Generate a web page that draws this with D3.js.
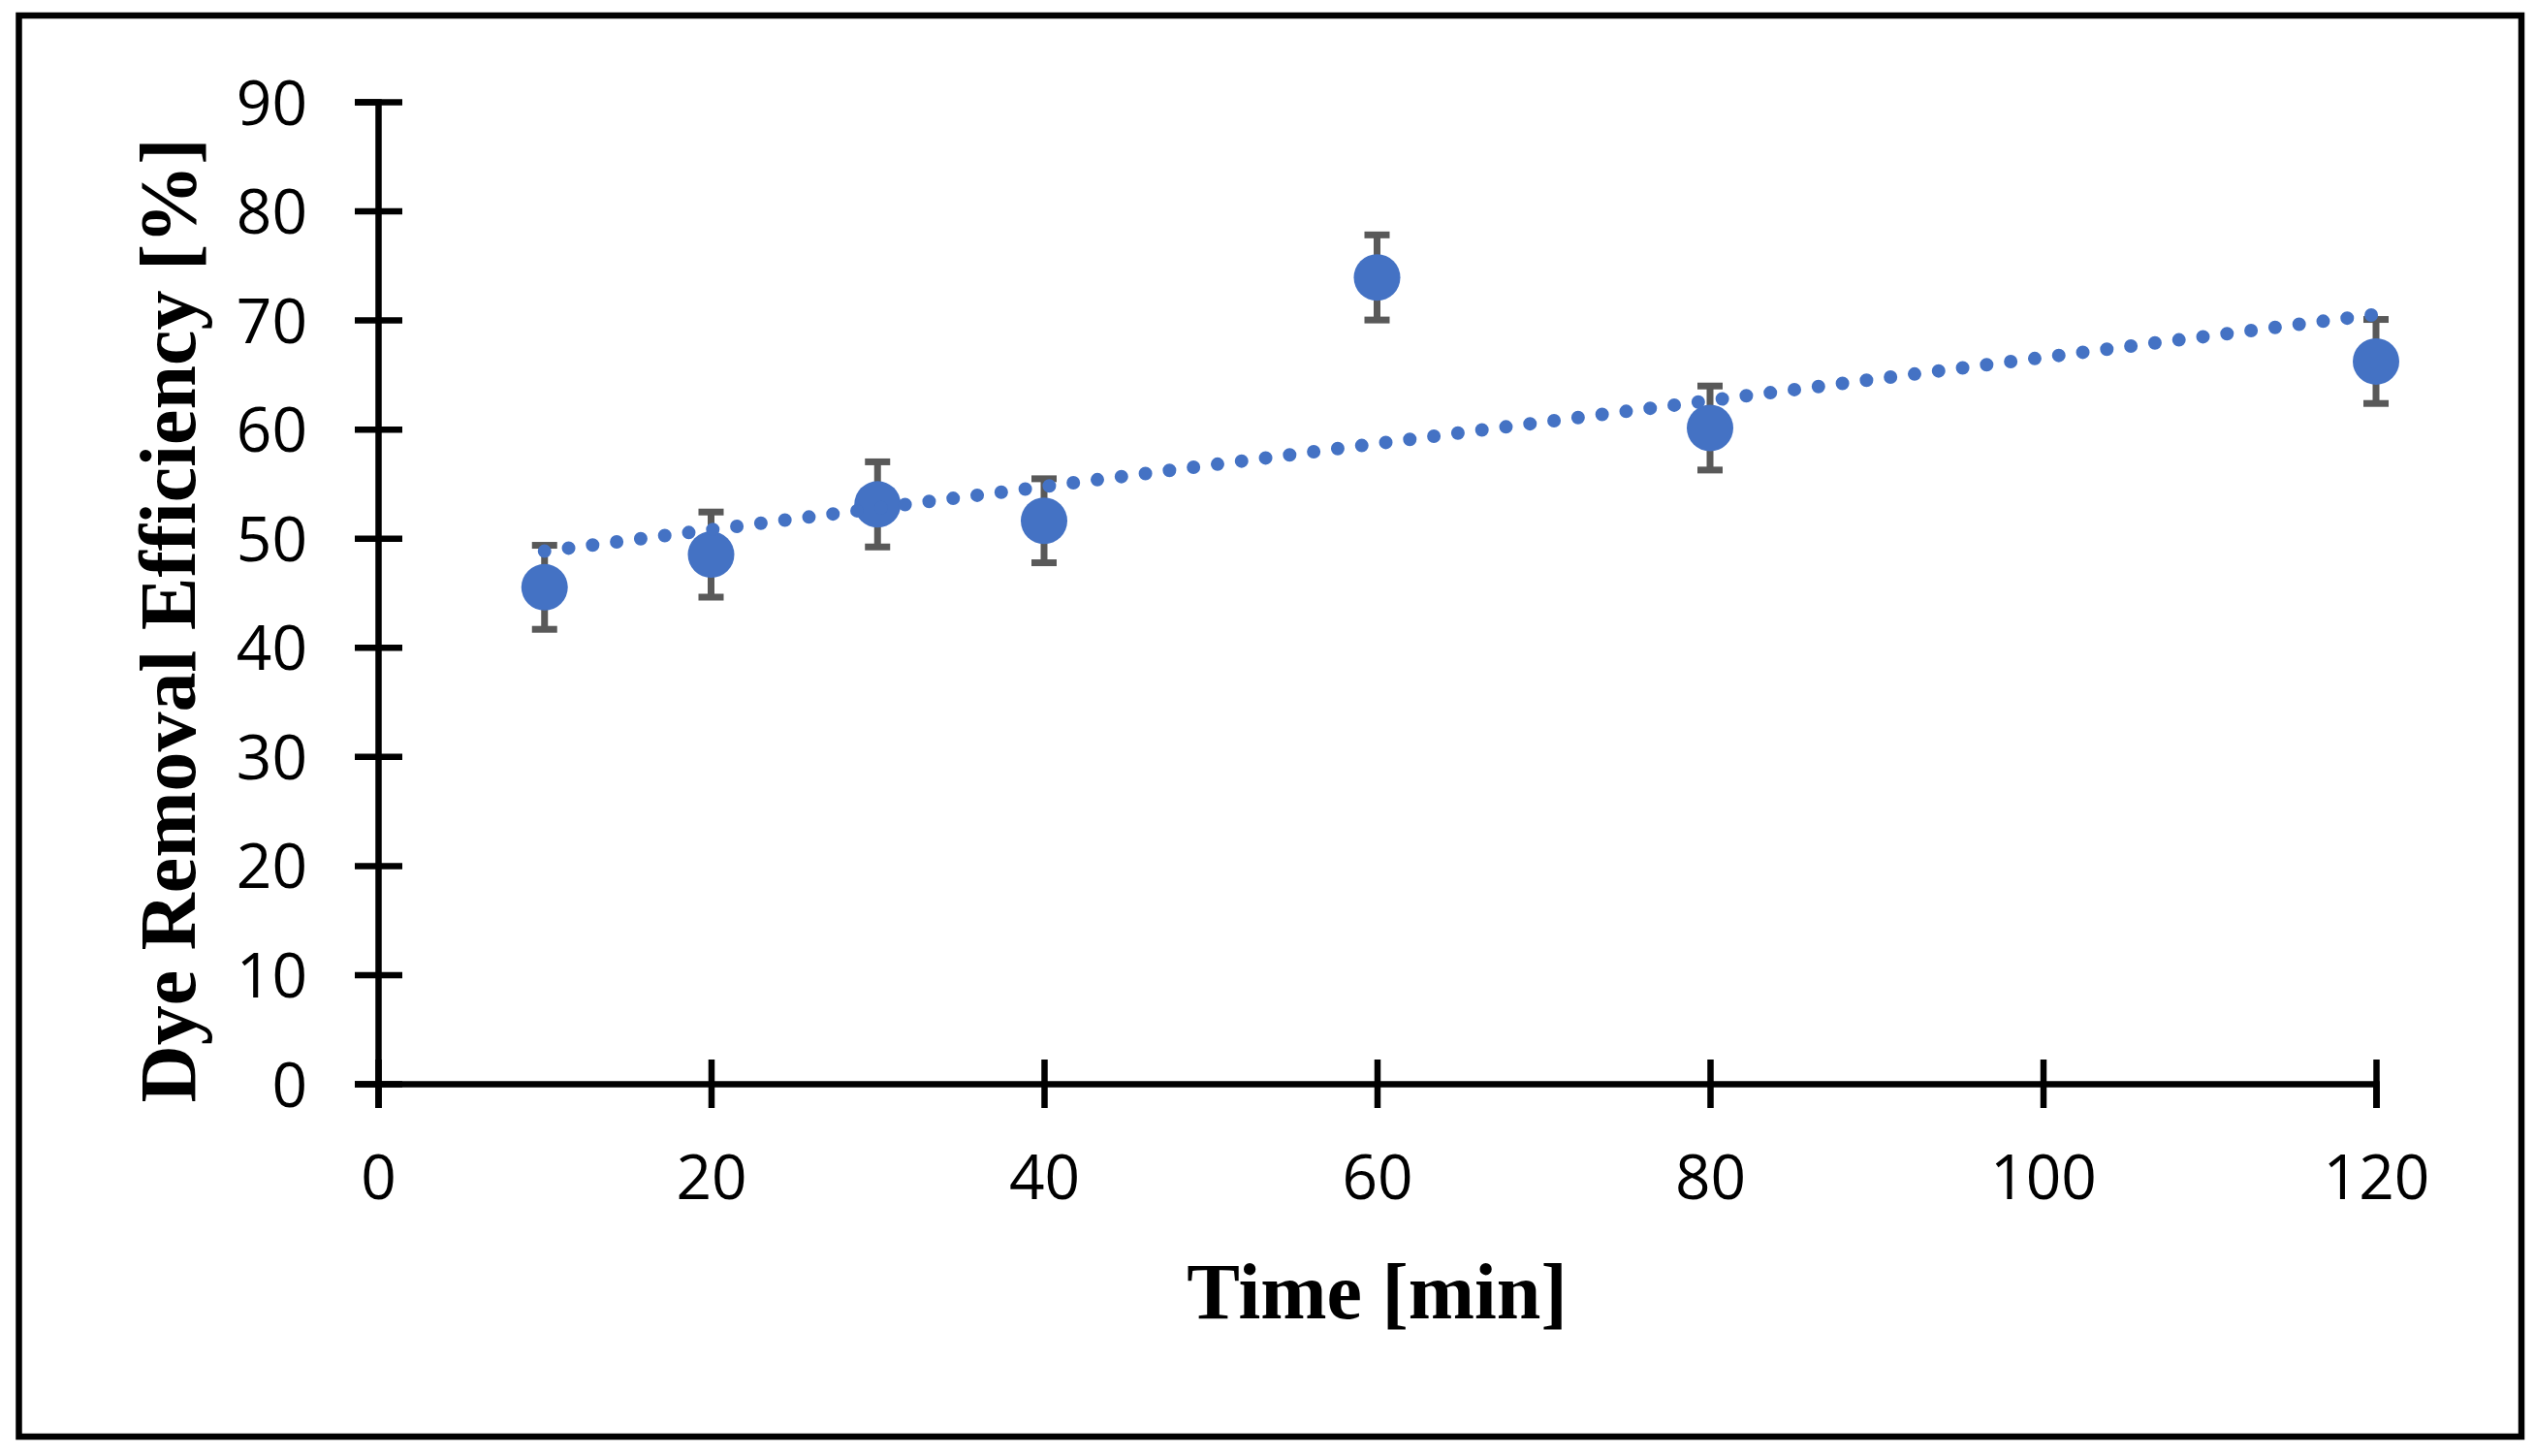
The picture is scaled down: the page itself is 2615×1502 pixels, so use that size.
<!DOCTYPE html>
<html>
<head>
<meta charset="utf-8">
<script src="https://cdn.jsdelivr.net/npm/d3@7"></script>
<style>
	body { margin: 0; background: #fff; }
	svg { display: block; }
</style>
</head>
<body>
<script>
// chart values
var times = [10, 20, 30, 40, 60, 80, 120];
var efficiency = [45.5, 48.5, 53.1, 51.6, 73.9, 60.1, 66.2];
var errors = [3.85, 3.9, 3.9, 3.85, 3.9, 3.85, 3.85];
var xTicks = [0, 20, 40, 60, 80, 100, 120];
var yTicks = [0, 10, 20, 30, 40, 50, 60, 70, 80, 90];

var W = 2615, H = 1502;
var plot = {left: 390, right: 2451, top: 105, bottom: 1118};
var blue = "#4472C4", grey = "#595959";

var svg = d3.select("body").append("svg")
	.attr("width", W)
	.attr("height", H);

// outer frame
svg.append("rect")
	.attr("x", 19.5).attr("y", 16)
	.attr("width", 2601 - 19.5).attr("height", 1482 - 16)
	.attr("fill", "none")
	.attr("stroke", "#000")
	.attr("stroke-width", 6.5);

var x = d3.scaleLinear().domain([0, 120]).range([plot.left, plot.right]);
var y = d3.scaleLinear().domain([0, 90]).range([plot.bottom, plot.top]);

// axes: ticks cross the axis line, so stretch each tick to both sides
var xAxis = svg.append("g")
	.attr("transform", "translate(0," + plot.bottom + ")")
	.call(d3.axisBottom(x).tickValues(xTicks).tickSizeOuter(0).tickSize(25).tickPadding(47));
xAxis.selectAll(".tick line").attr("y1", -25);

var yAxis = svg.append("g")
	.attr("transform", "translate(" + plot.left + ",0)")
	.call(d3.axisLeft(y).tickValues(yTicks).tickSizeOuter(0).tickSize(24).tickPadding(49));
yAxis.selectAll(".tick line").attr("x1", 25);

[xAxis, yAxis].forEach(function(ax) {
	ax.select(".domain").attr("stroke", "#000").attr("stroke-width", 6.5);
	ax.selectAll(".tick line").attr("stroke", "#000").attr("stroke-width", 6.5);
	ax.selectAll(".tick text")
		.attr("fill", "#000")
		.attr("font-family", "'Open Sans', sans-serif")
		.attr("font-size", 64);
});
xAxis.selectAll(".tick text").attr("dy", 0).attr("y", 1237 - plot.bottom);
yAxis.selectAll(".tick text").attr("dy", "0.36em");

var pts = times.map(function(t, i) { return {t: t, v: efficiency[i], e: errors[i]}; });

// error bars
var eb = svg.append("g").attr("stroke", grey).attr("stroke-width", 7);
eb.selectAll("line.stem").data(pts).enter().append("line")
	.attr("class", "stem")
	.attr("x1", function(d) { return x(d.t); })
	.attr("x2", function(d) { return x(d.t); })
	.attr("y1", function(d) { return y(d.v + d.e); })
	.attr("y2", function(d) { return y(d.v - d.e); });
eb.selectAll("line.capHi").data(pts).enter().append("line")
	.attr("x1", function(d) { return x(d.t) - 13; })
	.attr("x2", function(d) { return x(d.t) + 13; })
	.attr("y1", function(d) { return y(d.v + d.e); })
	.attr("y2", function(d) { return y(d.v + d.e); });
eb.selectAll("line.capLo").data(pts).enter().append("line")
	.attr("x1", function(d) { return x(d.t) - 13; })
	.attr("x2", function(d) { return x(d.t) + 13; })
	.attr("y1", function(d) { return y(d.v - d.e); })
	.attr("y2", function(d) { return y(d.v - d.e); });

// markers
svg.append("g").selectAll("circle").data(pts).enter().append("circle")
	.attr("cx", function(d) { return x(d.t); })
	.attr("cy", function(d) { return y(d.v); })
	.attr("r", 24)
	.attr("fill", blue);

// linear trendline (least squares fit of the points above)
var mx = d3.mean(times), my = d3.mean(efficiency);
var sxy = d3.sum(pts, function(d) { return (d.t - mx) * (d.v - my); });
var sxx = d3.sum(pts, function(d) { return (d.t - mx) * (d.t - mx); });
var slope = sxy / sxx, icpt = my - slope * mx;
var ends = d3.extent(times);

svg.append("path")
	.datum(ends)
	.attr("d", d3.line()
		.x(function(t) { return x(t); })
		.y(function(t) { return y(icpt + slope * t); }))
	.attr("fill", "none")
	.attr("stroke", blue)
	.attr("stroke-width", 14)
	.attr("stroke-linecap", "round")
	.attr("stroke-dasharray", "0 25");

// axis titles
svg.append("text")
	.attr("x", (plot.left + plot.right) / 2)
	.attr("y", 1360)
	.attr("text-anchor", "middle")
	.attr("font-family", "'Liberation Serif', 'Times New Roman', serif")
	.attr("font-weight", "bold")
	.attr("font-size", 82)
	.text("Time [min]");

svg.append("text")
	.attr("transform", "translate(201,640) rotate(-90)")
	.attr("text-anchor", "middle")
	.attr("font-family", "'Liberation Serif', 'Times New Roman', serif")
	.attr("font-weight", "bold")
	.attr("font-size", 82)
	.text("Dye Removal Efficiency [%]");
</script>
</body>
</html>
